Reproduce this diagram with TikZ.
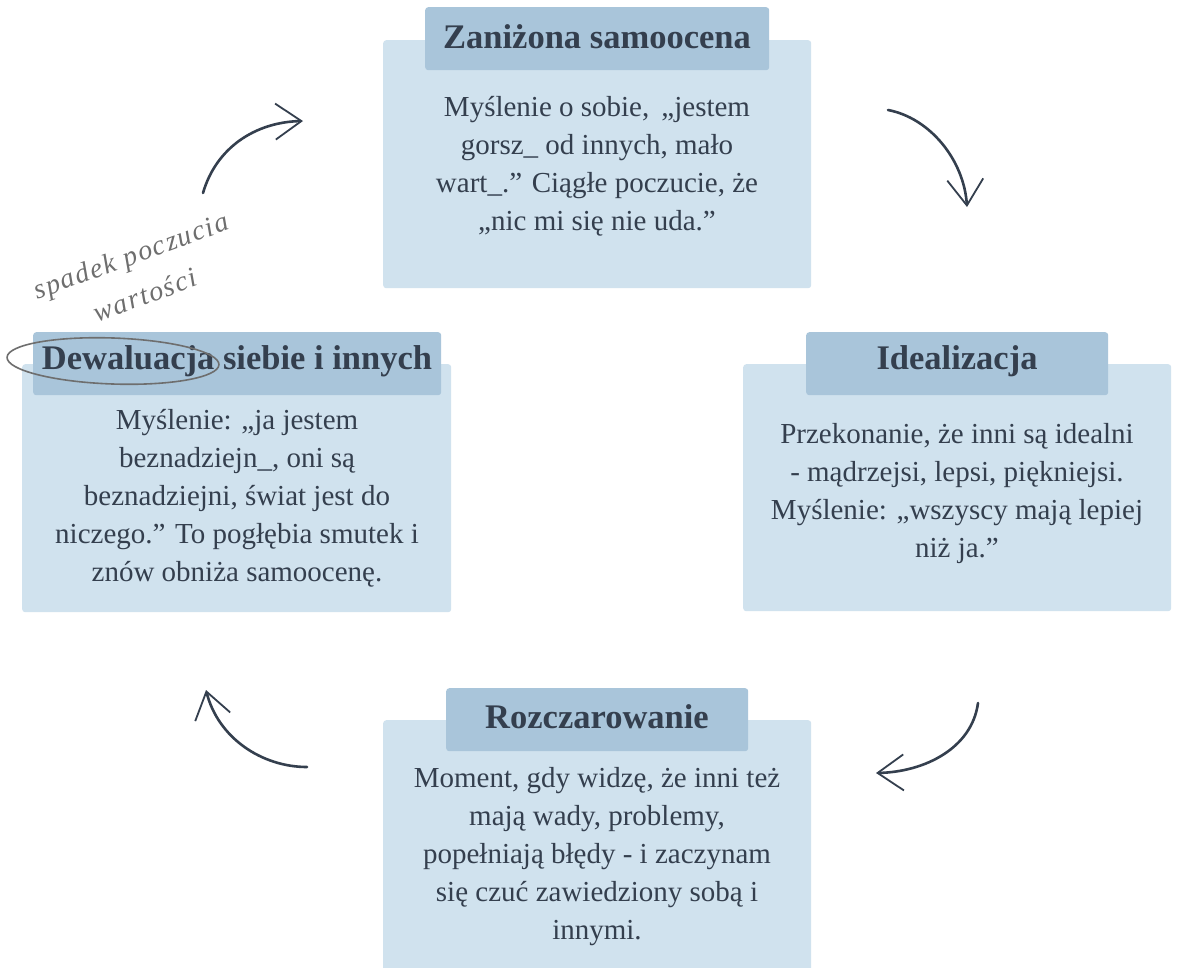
\documentclass[tikz,border=0pt]{standalone}
\usepackage{fontspec}
\setmainfont{Liberation Serif}
\usetikzlibrary{arrows.meta}
\definecolor{lightbox}{HTML}{D0E2EE}
\definecolor{titlebox}{HTML}{A9C5DA}
\definecolor{ink}{HTML}{343F4E}
\definecolor{pencil}{HTML}{6E6E6E}
\tikzset{
  panel/.style={fill=lightbox, rounded corners=3pt, anchor=north west, inner sep=0pt},
  tab/.style={fill=titlebox, rounded corners=3pt, anchor=north west, inner sep=0pt},
  titletext/.style={text=ink, font=\fontsize{34.5}{38}\selectfont\bfseries, inner sep=0pt},
  bodytext/.style={text=ink, font=\fontsize{29}{38}\selectfont, align=center, inner sep=0pt},
  cyclearrow/.style={draw=ink, line width=2.6pt, line cap=round,
    -{Straight Barb[length=26pt,width=36pt,line width=1.8pt]}},
  note/.style={text=pencil, font=\fontsize{28}{42}\selectfont\itshape\addfontfeatures{LetterSpace=6}, align=center, inner sep=0pt}
}
\begin{document}
\begin{tikzpicture}[x=1pt,y=-1pt]
\useasboundingbox[fill=white] (0,0) rectangle (1178,967);

% top box
\node[panel, minimum width=428pt, minimum height=248pt] (topbox) at (383,40) {};
\node[tab, minimum width=344pt, minimum height=63pt] (toptab) at (425,7) {};
\node[titletext] (toptitle) at (597,37) {Zaniżona samoocena};
\node[bodytext] (topbody) at (597,166) {Myślenie o sobie, \,„jestem\\gorsz\_ od innych, mało\\wart\_.” Ciągłe poczucie, że\\„nic mi się nie uda.”};

% right box
\node[panel, minimum width=428pt, minimum height=247pt] (rightbox) at (743,364) {};
\node[tab, minimum width=302pt, minimum height=63pt] (righttab) at (806,332) {};
\node[titletext] (righttitle) at (957,361) {Idealizacja};
\node[bodytext] (rightbody) at (957,494) {Przekonanie, że inni są idealni\\- mądrzejsi, lepsi, piękniejsi.\\Myślenie: „wszyscy mają lepiej\\niż ja.”};

% bottom box
\node[panel, minimum width=428pt, minimum height=260pt] (bottombox) at (383,720) {};
\node[tab, minimum width=302pt, minimum height=63pt] (bottomtab) at (446,688) {};
\node[titletext] (bottomtitle) at (597,717) {Rozczarowanie};
\node[bodytext] (bottombody) at (597,857) {Moment, gdy widzę, że inni też\\mają wady, problemy,\\popełniają błędy - i zaczynam\\się czuć zawiedziony sobą i\\innymi.};

% left box
\node[panel, minimum width=429pt, minimum height=248pt] (leftbox) at (22,364) {};
\node[tab, minimum width=408pt, minimum height=63pt] (lefttab) at (33,332) {};
\node[titletext] (lefttitle) at (237,361) {Dewaluacja siebie i innych};
\node[bodytext] (leftbody) at (237,498) {Myślenie: „ja jestem\\beznadziejn\_, oni są\\beznadziejni, świat jest do\\niczego.” To pogłębia smutek i\\znów obniża samoocenę.};

% arrows
\coordinate (a1s) at (203,193); \coordinate (a1e) at (303,121);
\coordinate (a2s) at (888,110); \coordinate (a2e) at (967,207);
\coordinate (a3s) at (978,703); \coordinate (a3e) at (876,773);
\coordinate (a4s) at (307,767); \coordinate (a4e) at (206,690);
\draw[cyclearrow] (a1s) .. controls (216,148) and (255,122) .. (a1e);
\draw[cyclearrow] (a2s) .. controls (930,118) and (964,160) .. (a2e);
\draw[cyclearrow] (a3s) .. controls (972,748) and (925,772) .. (a3e);
\draw[cyclearrow] (a4s) .. controls (262,767) and (218,738) .. (a4e);

% handwritten note
\node[note, rotate=20] (note) at (138,275) {spadek poczucia\\wartości};
\draw[pencil, line width=1.6pt, rotate around={-2:(113,361)}] (113,361) ellipse (106 and 23);
\end{tikzpicture}
\end{document}
